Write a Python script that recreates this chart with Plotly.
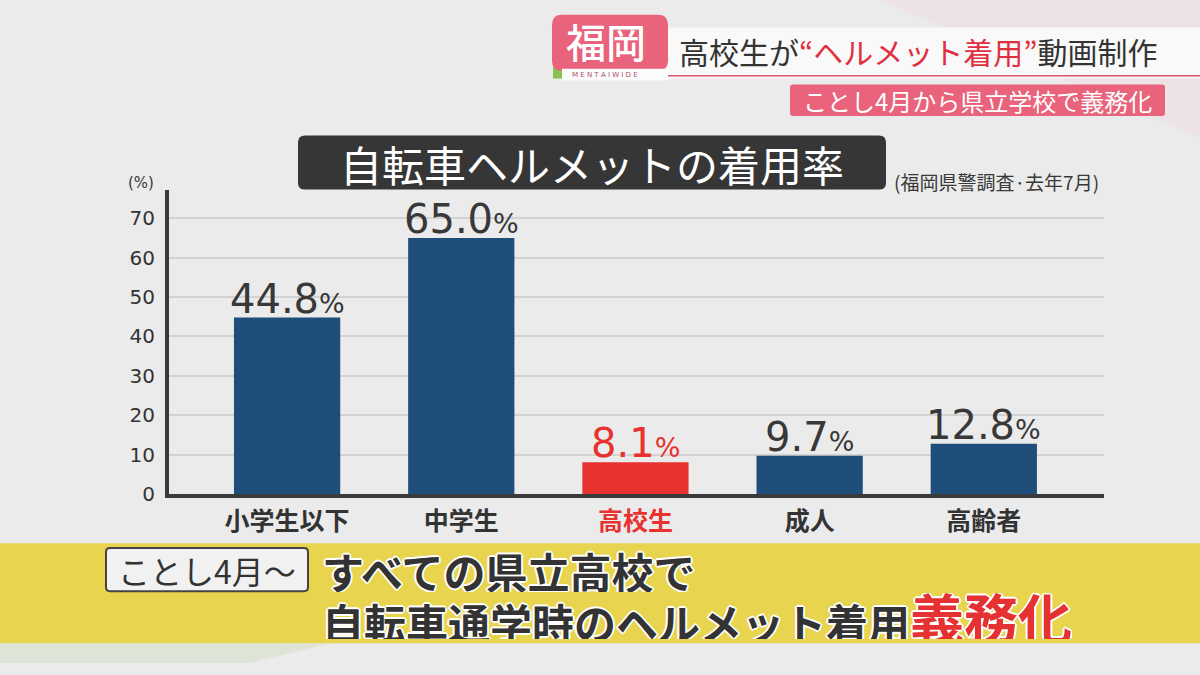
import plotly.graph_objects as go

# ---- data ----
categories = ["小学生以下", "中学生", "高校生", "成人", "高齢者"]
rates = [44.8, 65.0, 8.1, 9.7, 12.8]
highlight = "高校生"
y_ticks = [0, 10, 20, 30, 40, 50, 60, 70]

W, H = 1200, 675
NAVY = "#1f4e7a"
RED = "#e8322f"
DARK = "#383838"
PINK = "#e8637b"
JP = "Noto Sans CJK JP"


def px(x):
    return x / W


def py(y):
    return 1 - y / H


def rrect(x0, y0, x1, y1, r):
    """rounded rectangle path in paper coords given pixel coords"""
    rx, ry = r / W, r / H
    a0, a1 = px(x0), px(x1)
    b0, b1 = py(y1), py(y0)  # bottom, top
    return (f"M{a0+rx},{b0} L{a1-rx},{b0} Q{a1},{b0} {a1},{b0+ry} "
            f"L{a1},{b1-ry} Q{a1},{b1} {a1-rx},{b1} L{a0+rx},{b1} "
            f"Q{a0},{b1} {a0},{b1-ry} L{a0},{b0+ry} Q{a0},{b0} {a0+rx},{b0} Z")


bar_colors = [RED if c == highlight else NAVY for c in categories]
tick_text = [f"<span style='color:{RED}'>{c}</span>" if c == highlight else c
             for c in categories]

fig = go.Figure()
fig.add_trace(go.Bar(
    x=list(range(len(categories))), y=rates,
    marker=dict(color=bar_colors, line=dict(width=0)),
    width=0.61, hoverinfo="skip",
))

shapes = []
annotations = []

# value labels
for i, (c, v) in enumerate(zip(categories, rates)):
    col = RED if c == highlight else DARK
    annotations.append(dict(
        x=i, y=v, xref="x", yref="y", xanchor="center", yanchor="bottom",
        yshift=-6, showarrow=False,
        text=f"{v:.1f}<span style='font-size:27px'>%</span>",
        font=dict(family="DejaVu Sans", size=40, color=col),
    ))

# (%) label
annotations.append(dict(x=px(141), y=py(186), xref="paper", yref="paper",
                        text="(%)", showarrow=False, xanchor="center", yanchor="middle",
                        font=dict(family="DejaVu Sans", size=15, color=DARK)))

# chart title box
shapes.append(dict(type="path", path=rrect(298, 138, 886, 193, 7), xref="paper", yref="paper",
                   fillcolor="#363636", line=dict(width=0), layer="above"))
annotations.append(dict(x=px(592), y=py(166), xref="paper", yref="paper",
                        text="自転車ヘルメットの着用率", showarrow=False,
                        xanchor="center", yanchor="middle",
                        font=dict(family=JP, size=42, color="white")))
annotations.append(dict(x=px(892), y=py(185), xref="paper", yref="paper",
                        text="(福岡県警調査·去年7月)", showarrow=False,
                        xanchor="left", yanchor="middle",
                        font=dict(family=JP, size=19, color=DARK)))

# ---- header ----
shapes.append(dict(type="path", xref="paper", yref="paper",
                   path=f"M{px(880)},{py(0)} L{px(1200)},{py(0)} L{px(1200)},{py(140)} Z",
                   fillcolor="rgba(240,210,215,0.35)", line=dict(width=0), layer="below"))
shapes.append(dict(type="rect", xref="paper", yref="paper",
                   x0=px(600), x1=px(1200), y0=py(80), y1=py(28),
                   fillcolor="#f9f9f9", line=dict(width=0)))
shapes.append(dict(type="line", xref="paper", yref="paper",
                   x0=px(660), x1=px(1200), y0=py(77), y1=py(77),
                   line=dict(color="#d9566c", width=1.5)))
shapes.append(dict(type="rect", xref="paper", yref="paper",
                   x0=px(553), x1=px(566), y0=py(80), y1=py(68),
                   fillcolor="#8dc153", line=dict(width=0)))
shapes.append(dict(type="path", path=rrect(552, 15, 668, 72, 10), xref="paper", yref="paper",
                   fillcolor=PINK, line=dict(width=0)))
shapes.append(dict(type="rect", xref="paper", yref="paper",
                   x0=px(562), x1=px(668), y0=py(82), y1=py(70),
                   fillcolor="#fbfbfb", line=dict(width=0)))
annotations.append(dict(x=px(606), y=py(42), xref="paper", yref="paper",
                        text="福岡", showarrow=False, xanchor="center", yanchor="middle",
                        font=dict(family=JP, size=40, color="white", weight=500)))
annotations.append(dict(x=px(605), y=py(76), xref="paper", yref="paper",
                        text="M E N T A I W I D E", showarrow=False, xanchor="center", yanchor="middle",
                        font=dict(family="DejaVu Sans", size=7, color="#b05068")))
annotations.append(dict(x=px(677), y=py(52), xref="paper", yref="paper",
                        text=f"高校生が<span style='color:#e0303f'>“ヘルメット着用”</span>動画制作",
                        showarrow=False, xanchor="left", yanchor="middle",
                        font=dict(family=JP, size=30, color="#333333")))
shapes.append(dict(type="path", path=rrect(790, 86, 1165, 118, 3), xref="paper", yref="paper",
                   fillcolor=PINK, line=dict(width=0)))
annotations.append(dict(x=px(977), y=py(102), xref="paper", yref="paper",
                        text="ことし4月から県立学校で義務化", showarrow=False,
                        xanchor="center", yanchor="middle",
                        font=dict(family=JP, size=24, color="white")))

# ---- bottom band ----
shapes.append(dict(type="path", xref="paper", yref="paper",
                   path=f"M{px(0)},{py(655)} L{px(330)},{py(655)} L{px(250)},{py(675)} L{px(0)},{py(675)} Z",
                   fillcolor="rgba(215,225,200,0.6)", line=dict(width=0), layer="below"))
shapes.append(dict(type="rect", xref="paper", yref="paper",
                   x0=0, x1=1, y0=py(655), y1=py(553),
                   fillcolor="#e8d44e", line=dict(width=0)))
shapes.append(dict(type="path", path=rrect(106, 558, 308, 602, 4), xref="paper", yref="paper",
                   fillcolor="#f1f1f1", line=dict(color="#444444", width=2)))
annotations.append(dict(x=px(207), y=py(580), xref="paper", yref="paper",
                        text="ことし4月～", showarrow=False, xanchor="center", yanchor="middle",
                        font=dict(family=JP, size=32, color="#333333")))
outline = "2px 0 0 #fff, -2px 0 0 #fff, 0 2px 0 #fff, 0 -2px 0 #fff, 1px 1px 0 #fff, -1px -1px 0 #fff, 1px -1px 0 #fff, -1px 1px 0 #fff"
annotations.append(dict(x=px(320), y=py(580), xref="paper", yref="paper",
                        text="すべての県立高校で", height=44, valign="middle",
                        showarrow=False, xanchor="left", yanchor="middle", align="left",
                        font=dict(family=JP, size=42, color="#333333", weight=700, shadow=outline)))
annotations.append(dict(x=px(320), y=py(627), xref="paper", yref="paper",
                        text="自転車通学時のヘルメット着用<span style='color:#e53131;font-size:54px'>義務化</span>",
                        height=46, valign="middle",
                        showarrow=False, xanchor="left", yanchor="middle", align="left",
                        font=dict(family=JP, size=42, color="#333333", weight=700, shadow=outline)))

fig.update_layout(
    width=W, height=H,
    paper_bgcolor="#ebebeb", plot_bgcolor="#ebebeb",
    margin=dict(l=0, r=0, t=0, b=0),
    showlegend=False,
    bargap=0.39,
    shapes=shapes, annotations=annotations,
    xaxis=dict(
        domain=[px(169), px(1104)],
        range=[-0.678, 4.69],
        tickmode="array", tickvals=list(range(len(categories))), ticktext=tick_text,
        tickfont=dict(family=JP, size=25, color="#333333", weight=700),
        showgrid=False, zeroline=False,
        showline=True, linecolor="#3a3a3a", linewidth=4,
        ticks="", ticklabelstandoff=2, fixedrange=True,
    ),
    yaxis=dict(
        domain=[py(503), py(193)],
        range=[0, 77.3],
        tickmode="array", tickvals=y_ticks,
        tickfont=dict(family="DejaVu Sans", size=20, color="#333333"),
        showgrid=True, gridcolor="#d2d2d2", gridwidth=2,
        zeroline=False,
        showline=True, linecolor="#3a3a3a", linewidth=4,
        ticks="", ticklabelstandoff=6, fixedrange=True,
    ),
)

fig.write_html("out.html", config={"displayModeBar": False},
               post_script="document.body.style.margin='0';document.body.style.background='#ebebeb';")
